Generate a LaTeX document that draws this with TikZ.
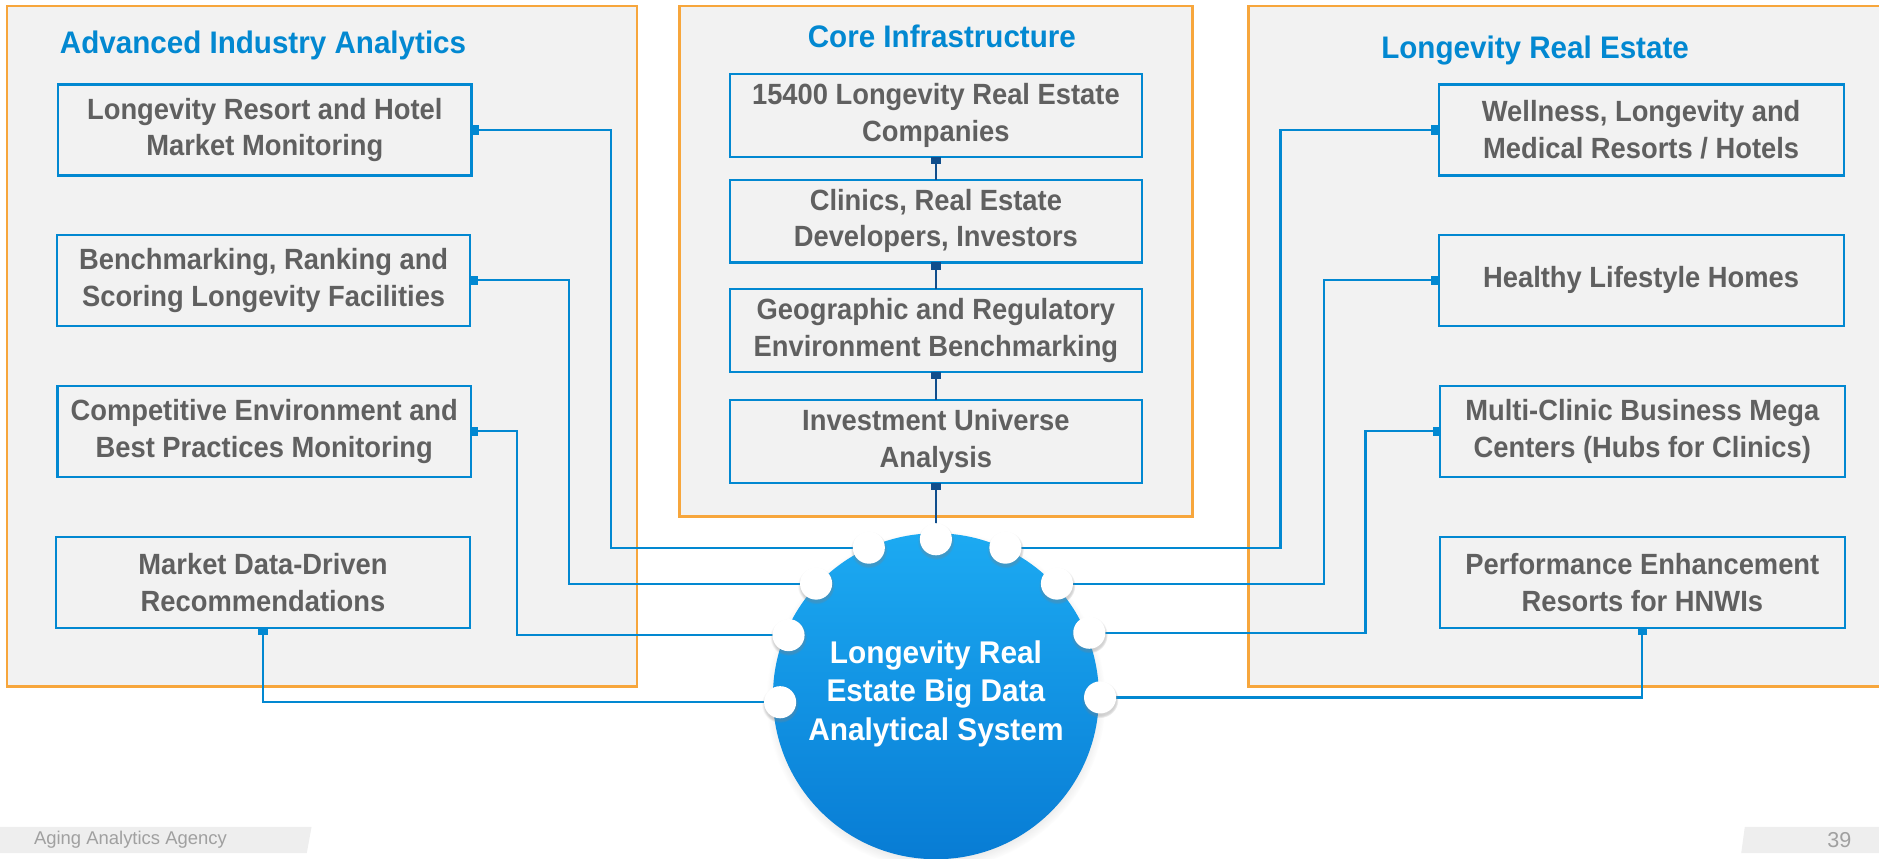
\documentclass[tikz,border=0pt]{standalone}
\usepackage{fontspec}
\setmainfont{Liberation Sans}
\newfontfamily\rob[FakeStretch=0.95]{Liberation Sans}
\newfontfamily\robbox[FakeStretch=0.935]{Liberation Sans}
\usetikzlibrary{arrows.meta,shadows,calc}
\definecolor{orng}{RGB}{247,166,60}
\definecolor{panelgray}{RGB}{242,242,242}
\definecolor{bblue}{RGB}{2,136,209}
\definecolor{tgray}{RGB}{96,96,96}
\definecolor{navy}{RGB}{16,78,140}
\definecolor{circtop}{RGB}{28,170,242}
\definecolor{circbot}{RGB}{8,124,212}
\definecolor{footbar}{RGB}{238,238,238}
\definecolor{foottext}{RGB}{160,160,160}
\begin{document}
\begin{tikzpicture}[x=0.5pt,y=-0.5pt,
  panel/.style={draw=orng,fill=panelgray,line width=1pt},
  ptitle/.style={text=bblue,font=\rob\bfseries\fontsize{13}{15.6}\selectfont,inner sep=0,anchor=base},
  box/.style={draw=bblue,fill=panelgray,line width=0.9pt,text=tgray,align=center,
    font=\robbox\bfseries\fontsize{12.2}{15.3}\selectfont,inner sep=0,outer sep=0},
  lbox/.style={box,minimum width=172.5pt,minimum height=38pt},
  cbox/.style={box,minimum width=172pt,minimum height=34.5pt},
  rbox/.style={box,minimum width=169pt,minimum height=38pt},
  conn/.style={draw=bblue,line width=0.9pt,-{Square[length=3pt,width=4pt]}},
  nconn/.style={draw=navy,line width=0.9pt,-{Square[length=3pt,width=4pt]}},
  sysc/.style={circle,minimum size=136pt,inner sep=0,top color=circtop,bottom color=circbot,
    circular drop shadow={shadow xshift=0pt,shadow yshift=-1.5pt,shadow scale=1.04,opacity=0.35}},
  systext/.style={text=white,align=center,font=\rob\bfseries\fontsize{13.1}{16}\selectfont,inner sep=0},
  port/.style={circle,fill=white,minimum size=13.4pt,inner sep=0,
    circular drop shadow={shadow xshift=0pt,shadow yshift=-0.8pt,shadow scale=1.15,opacity=0.35}},
  footer/.style={text=foottext,inner sep=0}
]
\useasboundingbox (0,0) rectangle (1568,716);
% panels
\draw[panel] (6,5) rectangle (531.5,573);
\draw[panel] (567,5) rectangle (995,431);
\draw[panel] (1042,5) rectangle (1580,573);
% titles
\node[ptitle] (t1) at (219.5,45) {Advanced Industry Analytics};
\node[ptitle] (t2) at (786,40) {Core Infrastructure};
\node[ptitle] (t3) at (1281,49) {Longevity Real Estate};
% left boxes
\node[lbox] (b1) at (221,108.5) {Longevity Resort and Hotel\\Market Monitoring};
\node[lbox] (b2) at (220,234) {Benchmarking, Ranking and\\Scoring Longevity Facilities};
\node[lbox] (b3) at (220.5,360) {Competitive Environment and\\Best Practices Monitoring};
\node[lbox] (b4) at (219.5,486) {Market Data-Driven\\Recommendations};
% center boxes
\node[cbox] (c1) at (781,96.5) {15400 Longevity Real Estate\\Companies};
\node[cbox] (c2) at (781,184.5) {Clinics, Real Estate\\Developers, Investors};
\node[cbox] (c3) at (781,276) {Geographic and Regulatory\\Environment Benchmarking};
\node[cbox] (c4) at (781,368.5) {Investment Universe\\Analysis};
% right boxes
\node[rbox] (r1) at (1369.5,108.5) {Wellness, Longevity and\\Medical Resorts / Hotels};
\node[rbox] (r2) at (1369.5,234) {Healthy Lifestyle Homes};
\node[rbox] (r3) at (1370.5,360) {Multi-Clinic Business Mega\\Centers (Hubs for Clinics)};
\node[rbox] (r4) at (1370.5,486) {Performance Enhancement\\Resorts for HNWIs};
% port positions
\coordinate (p0) at (781,450);
\coordinate (p1) at (725,457);
\coordinate (p2) at (839,457);
\coordinate (p3) at (681,487);
\coordinate (p4) at (882,487);
\coordinate (p5) at (658,530);
\coordinate (p6) at (909,528);
\coordinate (p7) at (651,586);
\coordinate (p8) at (918,582);
% center connectors
\draw[nconn] (c2.north) -- (c1.south);
\draw[nconn] (c3.north) -- (c2.south);
\draw[nconn] (c4.north) -- (c3.south);
\draw[nconn] (p0) -- (c4.south);
% left connectors
\draw[conn] (p1) -| ($(b1.east)+(116.5,0)$) -- (b1.east);
\draw[conn] (p3) -| ($(b2.east)+(82.5,0)$) -- (b2.east);
\draw[conn] (p5) -| ($(b3.east)+(38.5,0)$) -- (b3.east);
\draw[conn] (p7) -| (b4.south);
% right connectors
\draw[conn] (p2) -| ($(r1.west)+(-132,0)$) -- (r1.west);
\draw[conn] (p4) -| ($(r2.west)+(-96,0)$) -- (r2.west);
\draw[conn] (p6) -| ($(r3.west)+(-62,0)$) -- (r3.west);
\draw[conn] (p8) -| (r4.south);
% central system
\node[sysc] (sys) at (781,581) {};
\node[systext] (syst) at (781,579) {Longevity Real\\Estate Big Data\\Analytical System};
% ports
\foreach \i in {0,...,8} { \node[port] (q\i) at (p\i) {}; }
% footer
\fill[footbar] (0,690) -- (260,690) -- (256,712) -- (0,712) -- cycle;
\fill[footbar] (1456,690) -- (1575,690) -- (1575,712) -- (1453,712) -- cycle;
\node[footer,anchor=west,font=\fontsize{7.7}{9}\selectfont] (fa) at (28,701) {Aging Analytics Agency};
\node[footer,font=\fontsize{9}{10}\selectfont] (fn) at (1535,701) {39};
\end{tikzpicture}
\end{document}
